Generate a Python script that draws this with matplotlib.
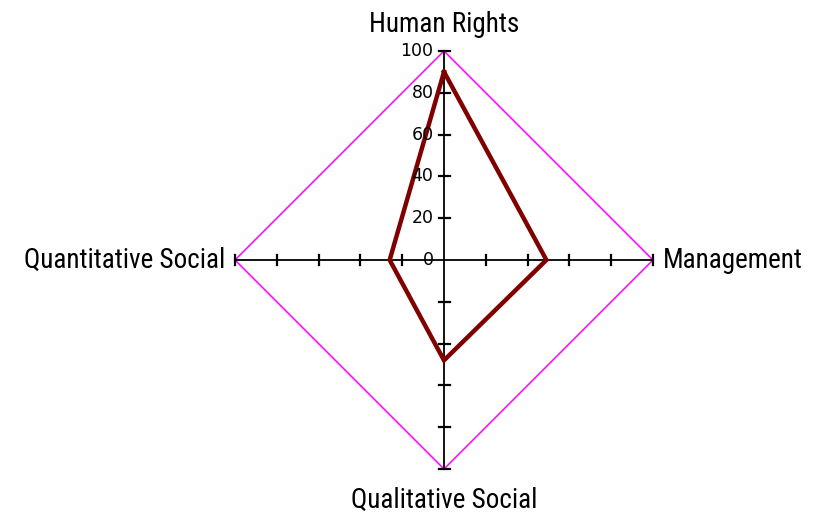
import numpy as np
import matplotlib.pyplot as plt

categories = ["Human Rights", "Management", "Qualitative Social", "Quantitative Social"]
values = [90, 49, 48, 26]
tick_values = [0, 20, 40, 60, 80, 100]

label_font = ["Roboto Condensed", "DejaVu Sans"]

# directions: up, right, down, left
dirs = np.array([[0, 1], [1, 0], [0, -1], [-1, 0]])

fig = plt.figure(figsize=(8.19, 5.13), dpi=100)
ax = fig.add_axes([0, 0, 1, 1])
s = 2.09  # pixels per unit
ax.set_xlim(-444 / s, (819 - 444) / s)
ax.set_ylim(-253 / s, 260 / s)
ax.axis("off")

# axes lines with cross ticks
for d in dirs:
    ax.plot([0, d[0] * 100], [0, d[1] * 100], color="black", lw=1.3, zorder=2)
    for t in tick_values[1:]:
        if d[0] == 0:
            ax.plot([-2.2, 2.8], [d[1] * t, d[1] * t], color="black", lw=1.6, zorder=2)
        else:
            ax.plot([d[0] * t, d[0] * t], [-2.6, 2.6], color="black", lw=1.6, zorder=2)

# outer grid at 100
outer = dirs * 100
outer = np.vstack([outer, outer[:1]])
ax.plot(outer[:, 0], outer[:, 1], color="#ff00ff", lw=1.1, zorder=1)

# data
pts = dirs * np.array(values)[:, None]
pts = np.vstack([pts, pts[:1]])
ax.plot(pts[:, 0], pts[:, 1], color="#800000", lw=3.2, zorder=3, solid_joinstyle="miter")

# tick labels on top axis
for t in tick_values:
    ax.text(-5.0, t, str(t), ha="right", va="center", fontsize=12.5,
            family="DejaVu Sans", color="black")

# category labels
fs = 19.5
ax.text(0, 106, categories[0], ha="center", va="bottom", fontsize=fs, family=label_font)
ax.text(104.5, 0, categories[1], ha="left", va="center", fontsize=fs, family=label_font)
ax.text(0, -108.5, categories[2], ha="center", va="top", fontsize=fs, family=label_font)
ax.text(-104.5, 0, categories[3], ha="right", va="center", fontsize=fs, family=label_font)

fig.savefig("out.png", dpi=100)
